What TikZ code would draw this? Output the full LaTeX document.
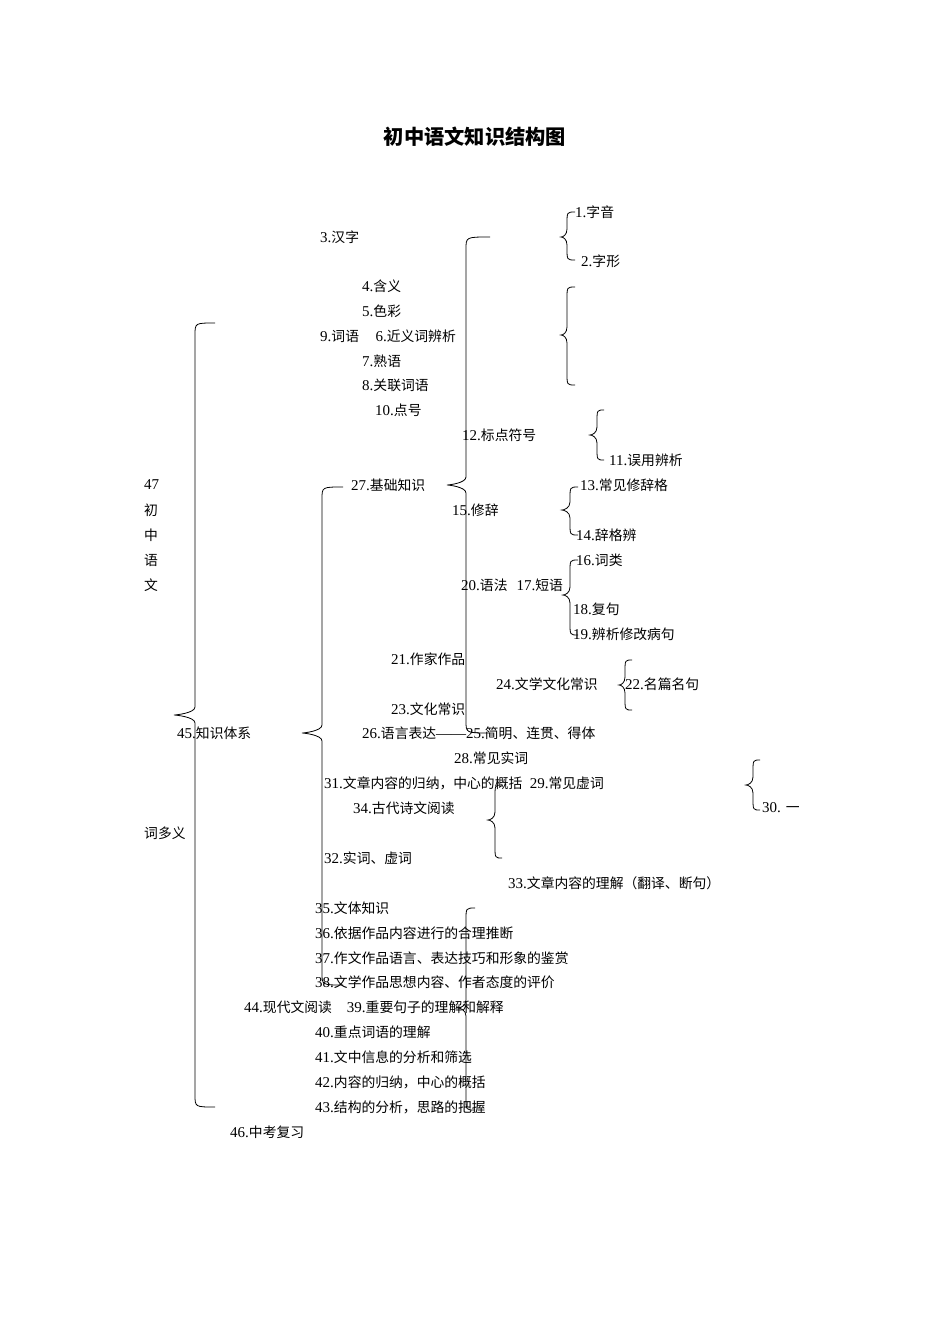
\documentclass[tikz,border=0pt]{standalone}
\usepackage{fontspec}
\setmainfont{Liberation Serif}
\newfontfamily\cjk{Noto Sans CJK SC}[Scale=0.92]
\tikzset{lbl/.style={anchor=west,inner sep=0pt,font=\fontsize{15}{18}\selectfont},
 brc/.style={line width=0.8pt,black}}
% \brace{xend}{xbar}{xtip}{ytop}{ymid}{ybot}
\newcommand{\mybrace}[6]{%
 \draw[brc] (#1,#4) .. controls (#2,#4) and (#2,#4) .. (#2,#4+12)
  -- (#2,#5-8) .. controls (#2,#5-2) and (#3+2,#5) .. (#3,#5)
  .. controls (#3+2,#5) and (#2,#5+2) .. (#2,#5+8)
  -- (#2,#6-12) .. controls (#2,#6) and (#2,#6) .. (#1,#6);}
\begin{document}
\begin{tikzpicture}[x=1pt,y=-1pt]
\useasboundingbox (0,0) rectangle (950,1344);
\node[font=\fontsize{22}{26}\selectfont\bfseries\cjk] (title) at (475,137) {初中语文知识结构图};
\node[lbl] (n1) at (575,212) {1.{\cjk 字音}};
\node[lbl] (n2) at (581,261) {2.{\cjk 字形}};
\node[lbl] (n3) at (320,237) {3.{\cjk 汉字}};
\node[lbl] (n4) at (362,286) {4.{\cjk 含义}};
\node[lbl] (n5) at (362,311) {5.{\cjk 色彩}};
\node[lbl] (n9) at (320,336) {9.{\cjk 词语}\hspace{1.1em}6.{\cjk 近义词辨析}};
\node[lbl] (n7) at (362,361) {7.{\cjk 熟语}};
\node[lbl] (n8) at (362,385) {8.{\cjk 关联词语}};
\node[lbl] (n10) at (375,410) {10.{\cjk 点号}};
\node[lbl] (n12) at (462,435) {12.{\cjk 标点符号}};
\node[lbl] (n11) at (609,460) {11.{\cjk 误用辨析}};
\node[lbl] (n47) at (144,485) {47};
\node[lbl] (c1) at (144,510) {\cjk 初};
\node[lbl] (c2) at (144,535) {\cjk 中};
\node[lbl] (c3) at (144,560) {\cjk 语};
\node[lbl] (c4) at (144,585) {\cjk 文};
\node[lbl] (n27) at (351,485) {27.{\cjk 基础知识}};
\node[lbl] (n13) at (580,485) {13.{\cjk 常见修辞格}};
\node[lbl] (n15) at (452,510) {15.{\cjk 修辞}};
\node[lbl] (n14) at (576,535) {14.{\cjk 辞格辨}};
\node[lbl] (n16) at (576,560) {16.{\cjk 词类}};
\node[lbl] (n20) at (461,585) {20.{\cjk 语法}\hspace{0.6em}17.{\cjk 短语}};
\node[lbl] (n18) at (573,609) {18.{\cjk 复句}};
\node[lbl] (n19) at (573,634) {19.{\cjk 辨析修改病句}};
\node[lbl] (n21) at (391,659) {21.{\cjk 作家作品}};
\node[lbl] (n24) at (496,684) {24.{\cjk 文学文化常识}};
\node[lbl] (n22) at (625,684) {22.{\cjk 名篇名句}};
\node[lbl] (n23) at (391,709) {23.{\cjk 文化常识}};
\node[lbl] (n45) at (177,733) {45.{\cjk 知识体系}};
\node[lbl] (n26) at (362,733) {26.{\cjk 语言表达}——25.{\cjk 简明、连贯、得体}};
\node[lbl] (n28) at (454,758) {28.{\cjk 常见实词}};
\node[lbl] (n31) at (324,783) {31.{\cjk 文章内容的归纳，中心的概括}\hspace{0.5em}29.{\cjk 常见虚词}};
\node[lbl] (n30) at (762,808) {30. {\cjk 一}};
\node[lbl] (n34) at (353,808) {34.{\cjk 古代诗文阅读}};
\node[lbl] (cdy) at (144,833) {\cjk 词多义};
\node[lbl] (n32) at (324,858) {32.{\cjk 实词、虚词}};
\node[lbl] (n33) at (508,883) {33.{\cjk 文章内容的理解（翻译、断句）}};
\node[lbl] (n35) at (315,908) {35.{\cjk 文体知识}};
\node[lbl] (n36) at (315,933) {36.{\cjk 依据作品内容进行的合理推断}};
\node[lbl] (n37) at (315,958) {37.{\cjk 作文作品语言、表达技巧和形象的鉴赏}};
\node[lbl] (n38) at (315,982) {38.{\cjk 文学作品思想内容、作者态度的评价}};
\node[lbl] (n44) at (244,1007) {44.{\cjk 现代文阅读}\hspace{1em}39.{\cjk 重要句子的理解和解释}};
\node[lbl] (n40) at (315,1032) {40.{\cjk 重点词语的理解}};
\node[lbl] (n41) at (315,1057) {41.{\cjk 文中信息的分析和筛选}};
\node[lbl] (n42) at (315,1082) {42.{\cjk 内容的归纳，中心的概括}};
\node[lbl] (n43) at (315,1107) {43.{\cjk 结构的分析，思路的把握}};
\node[lbl] (n46) at (230,1132) {46.{\cjk 中考复习}};
% braces
\mybrace{215}{195}{174}{323}{715}{1107}
\mybrace{343}{322}{302}{487}{733}{985}
\mybrace{490}{466}{447}{237}{485}{733}
\mybrace{575}{567}{561}{212}{237}{260}
\mybrace{575}{567}{561}{287}{335}{385}
\mybrace{604}{597}{590}{410}{435}{460}
\mybrace{578}{570}{562}{487}{510}{535}
\mybrace{578}{570}{563}{560}{595}{635}
\mybrace{632}{625}{619}{660}{685}{710}
\mybrace{760}{753}{746}{760}{785}{810}
\mybrace{502}{495}{488}{785}{820}{858}
\mybrace{475}{466}{458}{908}{1008}{1110}
\end{tikzpicture}
\end{document}
